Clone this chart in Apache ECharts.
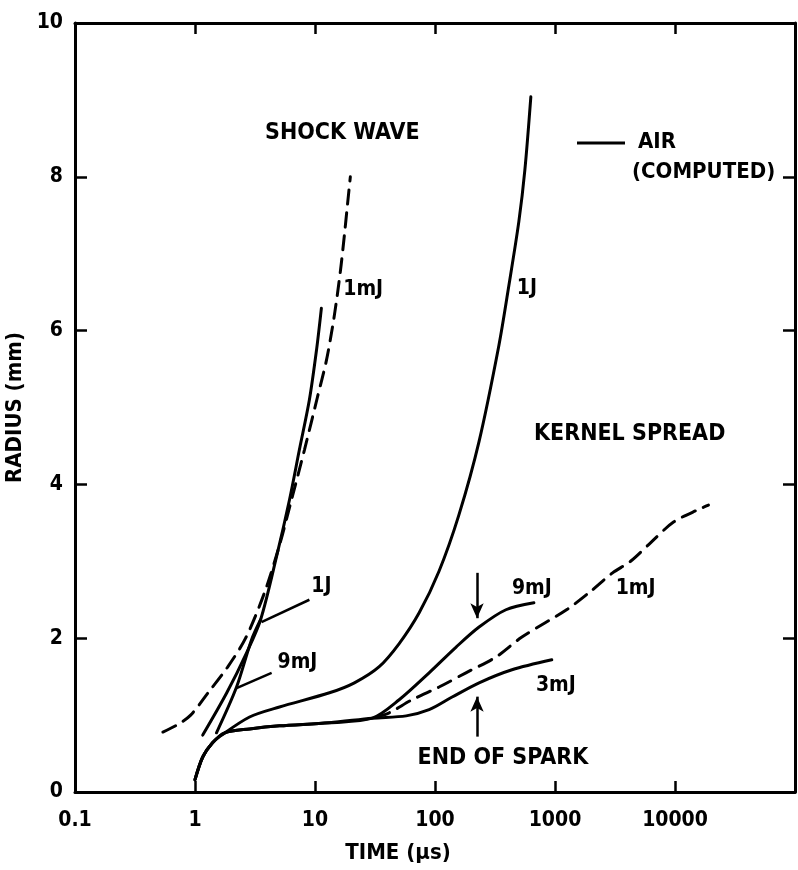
<!DOCTYPE html>
<html lang="en">
<head>
<meta charset="UTF-8">
<title>Radius vs time</title>
<script src="https://cdn.jsdelivr.net/npm/echarts@6/dist/echarts.min.js"></script>
</head>
<body style="margin:0;background:#fff">
<div id="chart" style="width:798px;height:870px"></div>
<script>
var FONT = "'Liberation Sans Narrow', 'DejaVu Sans Condensed', 'DejaVu Sans', sans-serif";

var xTickLabels = ['0.1', '1', '10', '100', '1000', '10000', ''];

// shock wave, [time us, radius mm]
var shock1mJ = [[0.54, 0.78], [0.705, 0.87], [0.92, 1.00], [1.30, 1.30], [1.87, 1.625], [2.64, 2.00],
    [3.79, 2.59], [5.06, 3.21], [6.37, 3.80], [8.17, 4.45], [10.5, 5.14], [12.4, 5.60], [14.0, 6.05],
    [15.3, 6.45], [16.5, 6.85], [17.6, 7.25], [18.6, 7.62], [19.7, 8.0]];
var shock1J = [[1.16, 0.74], [1.84, 1.29], [2.69, 1.81], [3.52, 2.24], [4.78, 3.06], [6.13, 3.80],
    [7.41, 4.45], [8.98, 5.10], [10.3, 5.75], [11.3, 6.29]];
var shock9mJ = [[1.51, 0.77], [2.22, 1.365], [2.96, 1.98], [3.52, 2.24]];

// kernel spread
var kernel1J = [[1.0, 0.16], [1.16, 0.455], [1.40, 0.64], [1.60, 0.72], [2.85, 0.975], [5.06, 1.105],
    [13.2, 1.29], [21.3, 1.42], [34.3, 1.63], [50.3, 1.93], [73.8, 2.33], [108, 2.87], [158, 3.60],
    [233, 4.56], [341, 5.81], [413, 6.59], [500, 7.42], [561, 8.09], [629, 9.04]];
var kernelBase = [[1.0, 0.16], [1.16, 0.455], [1.40, 0.64], [1.77, 0.77], [2.85, 0.82], [5.06, 0.86],
    [13.2, 0.90], [30.0, 0.96]];
var kernel9mJ = kernelBase.concat([[50.3, 1.20], [89.3, 1.55], [150, 1.885], [233, 2.145], [390, 2.37], [667, 2.46]]);
var kernel3mJ = kernelBase.concat([[57.5, 0.99], [89.3, 1.07], [139, 1.235], [233, 1.42], [438, 1.59], [940, 1.72]]);
var kernel1mJ = [[32.4, 0.975], [41.5, 1.03], [64.5, 1.20], [108, 1.365], [181, 1.55], [322, 1.755],
    [530, 2.015], [1276, 2.38], [1986, 2.61], [3020, 2.85], [4265, 3.00], [6250, 3.24], [9720, 3.51],
    [16000, 3.68], [19000, 3.73]];

// short leader lines from the shock curves to their labels
var leader1J = [[3.58, 2.21], [8.98, 2.50]];
var leader9mJ = [[2.22, 1.35], [4.35, 1.55]];
// end of spark arrows
var arrowDown = [[224, 2.85], [224, 2.26]];
var arrowUp = [[224, 0.72], [224, 1.24]];

var bigNotes = [['SHOCK WAVE', 16.9, 8.57], ['KERNEL SPREAD', 4190, 4.66], ['END OF SPARK', 368, 0.44]];
var curveTags = [['1mJ', 25.2, 6.53], ['1J', 583, 6.55], ['1J', 11.3, 2.67], ['9mJ', 7.14, 1.68],
    ['9mJ', 641, 2.65], ['1mJ', 4700, 2.65], ['3mJ', 1016, 1.38]];

var chart = echarts.init(document.getElementById('chart'));

function curve(data, dashed) {
    return {
        type: 'line', data: data, symbol: 'none', smooth: 0.3, silent: true,
        lineStyle: {color: '#000', width: 3, type: dashed ? [14, 9] : 'solid', cap: 'round'}
    };
}
function leader(data) {
    return {
        type: 'line', data: data, symbol: 'none', silent: true,
        lineStyle: {color: '#000', width: 2.5}
    };
}
function notes(list, size) {
    return {
        type: 'scatter', symbolSize: 0, silent: true,
        itemStyle: {opacity: 1, color: '#000'},
        data: list.map(function (n) { return {name: n[0], value: [n[1], n[2]]}; }),
        label: {
            show: true, position: 'inside', formatter: '{b}', color: '#000', opacity: 1,
            fontFamily: FONT, fontWeight: 'bold', fontSize: size
        }
    };
}
var txt = {color: '#000', fontFamily: FONT, fontWeight: 'bold'};

var arrowSeries = notes([], 12);
arrowSeries.markLine = {
    silent: true, symbol: ['none', 'arrow'], symbolSize: [10, 15],
    label: {show: false},
    lineStyle: {color: '#000', width: 2.5, type: 'solid'},
    data: [
        [{coord: arrowDown[0]}, {coord: arrowDown[1]}],
        [{coord: arrowUp[0]}, {coord: arrowUp[1]}]
    ]
};

var option = {
    animation: false,
    backgroundColor: '#fff',
    grid: {left: 75, right: 3, top: 23, bottom: 78, outerBoundsMode: 'none'},
    xAxis: [{
        type: 'log', logBase: 10, min: 0.1, max: 100000, position: 'bottom',
        axisLine: {onZero: false, lineStyle: {color: '#000', width: 3}},
        axisTick: {inside: true, length: 11, lineStyle: {color: '#000', width: 2.5}},
        minorTick: {show: false}, splitLine: {show: false},
        axisLabel: Object.assign({
            fontSize: 21, margin: 18,
            formatter: function (v) {
                var k = Math.round(Math.log10(v)) + 1;
                return xTickLabels[k] || '';
            }
        }, txt),
        name: 'TIME (µs)', nameLocation: 'middle', nameGap: 50,
        nameTextStyle: Object.assign({fontSize: 22, padding: [0, 74, 0, 0]}, txt)
    }, {
        type: 'log', logBase: 10, min: 0.1, max: 100000, position: 'top',
        axisLine: {onZero: false, lineStyle: {color: '#000', width: 3}},
        axisTick: {inside: true, length: 11, lineStyle: {color: '#000', width: 2.5}},
        axisLabel: {show: false}, splitLine: {show: false}
    }],
    yAxis: [{
        type: 'value', min: 0, max: 10, interval: 2, position: 'left',
        axisLine: {show: true, onZero: false, lineStyle: {color: '#000', width: 3}},
        axisTick: {show: true, inside: true, length: 12, lineStyle: {color: '#000', width: 2.5}},
        splitLine: {show: false},
        axisLabel: Object.assign({fontSize: 21, margin: 12}, txt),
        name: 'RADIUS (mm)', nameLocation: 'middle', nameRotate: 90, nameGap: 42,
        nameTextStyle: Object.assign({fontSize: 22}, txt)
    }, {
        type: 'value', min: 0, max: 10, interval: 2, position: 'right',
        axisLine: {show: true, onZero: false, lineStyle: {color: '#000', width: 3}},
        axisTick: {show: true, inside: true, length: 12, lineStyle: {color: '#000', width: 2.5}},
        axisLabel: {show: false}, splitLine: {show: false}
    }],
    graphic: [
        {type: 'line', shape: {x1: 577, y1: 143, x2: 625, y2: 143}, style: {stroke: '#000', lineWidth: 3}},
        {type: 'text', x: 638, y: 142, style: {text: 'AIR', fill: '#000', font: 'bold 22px ' + FONT, verticalAlign: 'middle'}},
        {type: 'text', x: 632, y: 172, style: {text: '(COMPUTED)', fill: '#000', font: 'bold 22px ' + FONT, verticalAlign: 'middle'}}
    ],
    series: [
        curve(shock1mJ, true),
        curve(shock1J, false),
        curve(shock9mJ, false),
        leader(leader1J),
        leader(leader9mJ),
        curve(kernel1J, false),
        curve(kernel9mJ, false),
        curve(kernel3mJ, false),
        curve(kernel1mJ, true),
        notes(bigNotes, 23),
        notes(curveTags, 21),
        arrowSeries
    ]
};
chart.setOption(option);
</script>
</body>
</html>
